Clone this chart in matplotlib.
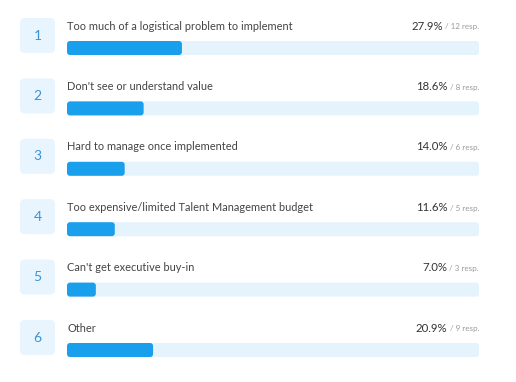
import matplotlib.pyplot as plt
from matplotlib.patches import FancyBboxPatch

# survey data
labels = [
    "Too much of a logistical problem to implement",
    "Don't see or understand value",
    "Hard to manage once implemented",
    "Too expensive/limited Talent Management budget",
    "Can't get executive buy-in",
    "Other",
]
percents = [27.9, 18.6, 14.0, 11.6, 7.0, 20.9]
responses = [12, 8, 6, 5, 3, 9]

BAR_COLOR = "#1a9fec"
TRACK_COLOR = "#e5f3fd"
BOX_COLOR = "#e8f4fe"
NUM_COLOR = "#3b93d6"
TEXT_COLOR = "#444444"
SMALL_COLOR = "#9a9a9a"

plt.rcParams['font.family'] = ['Lato', 'DejaVu Sans']

W, H = 516, 382
fig = plt.figure(figsize=(W / 100, H / 100), dpi=100)
fig.patch.set_facecolor("white")

# axes spans the bar track horizontally, full height vertically
x0_px, x1_px = 67, 479
row_px = 60.4
first_px = 48
ax = fig.add_axes([x0_px / W, 0, (x1_px - x0_px) / W, 1])
ax.set_xlim(0, 100)
ax.set_ylim((H - first_px) / row_px, -first_px / row_px)
ax.axis("off")

px_x = (x1_px - x0_px) / 100.0   # pixels per x unit
aspect = px_x / row_px           # y units per x unit for same pixel size

bar_h = 14 / row_px
r = 3 / px_x

for i, (lab, pct, n) in enumerate(zip(labels, percents, responses)):
    # track
    ax.add_patch(FancyBboxPatch((0, i - bar_h / 2), 100, bar_h,
                                boxstyle=f"round,pad=0,rounding_size={r}",
                                mutation_aspect=aspect, fc=TRACK_COLOR, ec="none"))
    # value bar
    ax.add_patch(FancyBboxPatch((0, i - bar_h / 2), pct, bar_h,
                                boxstyle=f"round,pad=0,rounding_size={r}",
                                mutation_aspect=aspect, fc=BAR_COLOR, ec="none"))
    # number box
    bw = 35 / px_x
    bh = 35 / row_px
    bx = -47 / px_x
    by = i - 12.5 / row_px - bh / 2
    ax.add_patch(FancyBboxPatch((bx, by), bw, bh,
                                boxstyle=f"round,pad=0,rounding_size={5 / px_x}",
                                mutation_aspect=aspect, fc=BOX_COLOR, ec="none",
                                clip_on=False))
    ax.text(bx + bw / 2, i - 12.5 / row_px, str(i + 1), ha="center", va="center",
            fontsize=10, color=NUM_COLOR, clip_on=False)
    # label
    ty = i - 22 / row_px
    ax.text(0, ty, lab, ha="left", va="center", fontsize=7.9, color=TEXT_COLOR)
    # response count + percent
    small = ax.text(100, ty + 1 / row_px, f"/ {n} resp.", ha="right", va="center",
                    fontsize=5.8, color=SMALL_COLOR)
    fig.canvas.draw()
    bb = small.get_window_extent()
    y_fig = ax.transData.transform((0, ty))[1]
    ax.annotate(f"{pct:.1f}%", xy=(bb.x0, y_fig), xycoords="figure pixels",
                xytext=(-1.5, 0), textcoords="offset points",
                ha="right", va="center", fontsize=8.2, color="#333333",
                annotation_clip=False)

fig.savefig("out.png", dpi=100, facecolor="white")
